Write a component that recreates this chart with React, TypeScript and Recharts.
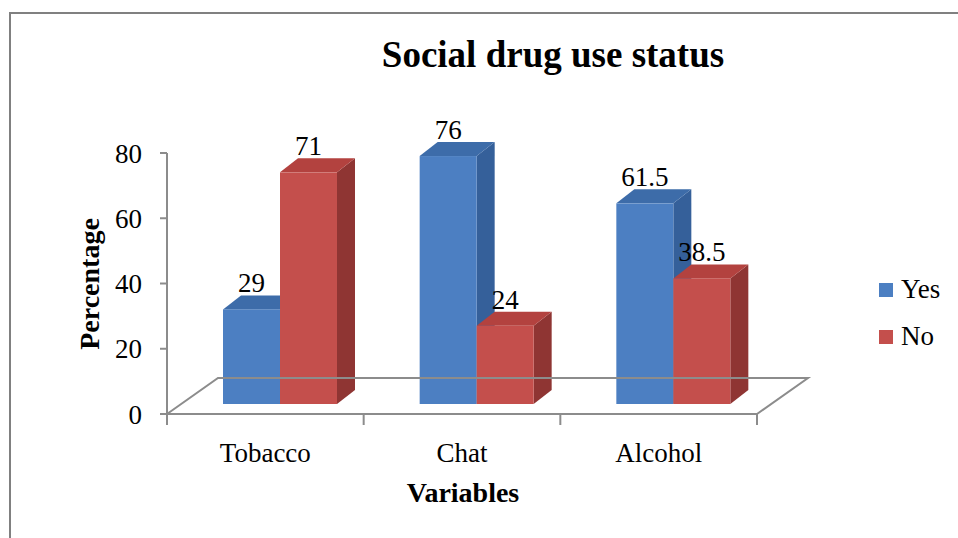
import React from "react";
import { BarChart, Bar, XAxis, YAxis, ReferenceLine, Legend, LabelList } from "recharts";

const categories = ["Tobacco", "Chat", "Alcohol"];
const yes = [29, 76, 61.5];
const no = [71, 24, 38.5];
const yTicks = [0, 20, 40, 60, 80];

const data = categories.map((name, i) => ({ name, Yes: yes[i], No: no[i] }));

const series = [
  { key: "Yes", front: "#4c7fc2", top: "#3d6ca9", side: "#35609a" },
  { key: "No", front: "#c44f4c", top: "#b3423f", side: "#8f3533" },
];

// 3d look
const SHIFT_X = 15;
const SHIFT_Y = 10;
const DX = 18;
const DY = 14;
const FLOOR_DX = 51;
const FLOOR_DY = 36;
const AXIS = "#8c8c8c";
const FONT = "'Liberation Serif', 'Times New Roman', serif";

const makeBox = (c: { front: string; top: string; side: string }) => (props: any) => {
  const { x, y, width, height } = props;
  if (width == null || height == null) return null;
  const x0 = x + SHIFT_X;
  const y0 = y - SHIFT_Y;
  const x1 = x0 + width;
  const y1 = y0 + height;
  return (
    <g>
      <polygon
        points={`${x1},${y0} ${x1 + DX},${y0 - DY} ${x1 + DX},${y1 - DY} ${x1},${y1}`}
        fill={c.side}
      />
      <polygon
        points={`${x0},${y0} ${x0 + DX},${y0 - DY} ${x1 + DX},${y0 - DY} ${x1},${y0}`}
        fill={c.top}
      />
      <rect x={x0} y={y0} width={width} height={height} fill={c.front} />
    </g>
  );
};

const Floor = (props: any) => {
  const { x1, y1, x2 } = props;
  const n = categories.length;
  const step = (x2 - x1) / n;
  const ticks = Array.from({ length: n + 1 }, (_, i) => x1 + i * step);
  return (
    <g stroke={AXIS} strokeWidth={2} fill="none">
      <polyline
        points={`${x1},${y1} ${x1 + FLOOR_DX},${y1 - FLOOR_DY} ${x2 + FLOOR_DX},${y1 - FLOOR_DY} ${x2},${y1}`}
      />
      <line x1={x1 - 7} y1={y1} x2={x2} y2={y1} />
      {ticks.map((t, i) => (
        <line key={i} x1={t} y1={y1} x2={t} y2={y1 + 11} />
      ))}
    </g>
  );
};

const valueLabel = (props: any) => {
  const { x, y, width, value } = props;
  return (
    <text
      x={x + width / 2 + SHIFT_X}
      y={y - SHIFT_Y - DY - 3}
      textAnchor="middle"
      style={{ fontFamily: FONT, fontSize: 27 }}
      fill="#000"
    >
      {value}
    </text>
  );
};

const LegendBox = () => (
  <div style={{ fontFamily: FONT, fontSize: 27, color: "#000" }}>
    {series.map((s) => (
      <div key={s.key} style={{ display: "flex", alignItems: "center", height: 47, fontFamily: FONT }}>
        <span style={{ width: 14, height: 14, background: s.front, marginRight: 8 }} />
        <span style={{ fontFamily: FONT }}>{s.key}</span>
      </div>
    ))}
  </div>
);

const tickStyle = { fill: "#000", fontSize: 27, fontFamily: FONT, style: { fontFamily: FONT } };

export default function App() {
  return (
    <div style={{ position: "absolute", left: 0, top: 0, width: 958, height: 538, background: "#fff" }}>
      <div
        style={{
          position: "absolute",
          left: 9,
          top: 12,
          width: 960,
          height: 540,
          borderLeft: "2.5px solid #808080",
          borderTop: "2.5px solid #808080",
        }}
      />
      <div
        style={{
          position: "absolute",
          left: 0,
          top: 33,
          width: 1106,
          textAlign: "center",
          fontFamily: FONT,
          fontWeight: "bold",
          fontSize: 37,
        }}
      >
        Social drug use status
      </div>
      <div
        style={{
          position: "absolute",
          left: 90,
          top: 284,
          transform: "translate(-50%, -50%) rotate(-90deg)",
          fontFamily: FONT,
          fontWeight: "bold",
          fontSize: 28,
          whiteSpace: "nowrap",
        }}
      >
        Percentage
      </div>
      <div
        style={{
          position: "absolute",
          left: 463,
          top: 493,
          transform: "translate(-50%, -50%)",
          fontFamily: FONT,
          fontWeight: "bold",
          fontSize: 28,
          whiteSpace: "nowrap",
        }}
      >
        Variables
      </div>
      <div style={{ position: "absolute", left: 0, top: 0 }}>
        <BarChart
          width={958}
          height={538}
          data={data}
          margin={{ top: 153, right: 201, bottom: 0, left: 0 }}
          barGap={0}
          barSize={57}
          style={{ fontFamily: FONT }}
        >
          <XAxis
            dataKey="name"
            height={124}
            axisLine={false}
            tickLine={false}
            tickSize={0}
            tickMargin={29}
            tick={tickStyle}
          />
          <YAxis
            width={167}
            domain={[0, 80]}
            ticks={yTicks}
            tickSize={7}
            tickMargin={18}
            axisLine={{ stroke: AXIS, strokeWidth: 2 }}
            tickLine={{ stroke: AXIS, strokeWidth: 2 }}
            tick={tickStyle}
          />
          <ReferenceLine y={0} shape={Floor} ifOverflow="visible" />
          <Legend
            layout="vertical"
            align="center"
            verticalAlign="middle"
            wrapperStyle={{ left: 879, top: 266, width: 80, height: 100, fontFamily: FONT }}
            content={LegendBox}
          />
          {series.map((s) => (
            <Bar key={s.key} dataKey={s.key} shape={makeBox(s)} isAnimationActive={false}>
              <LabelList dataKey={s.key} content={valueLabel} />
            </Bar>
          ))}
        </BarChart>
      </div>
    </div>
  );
}
